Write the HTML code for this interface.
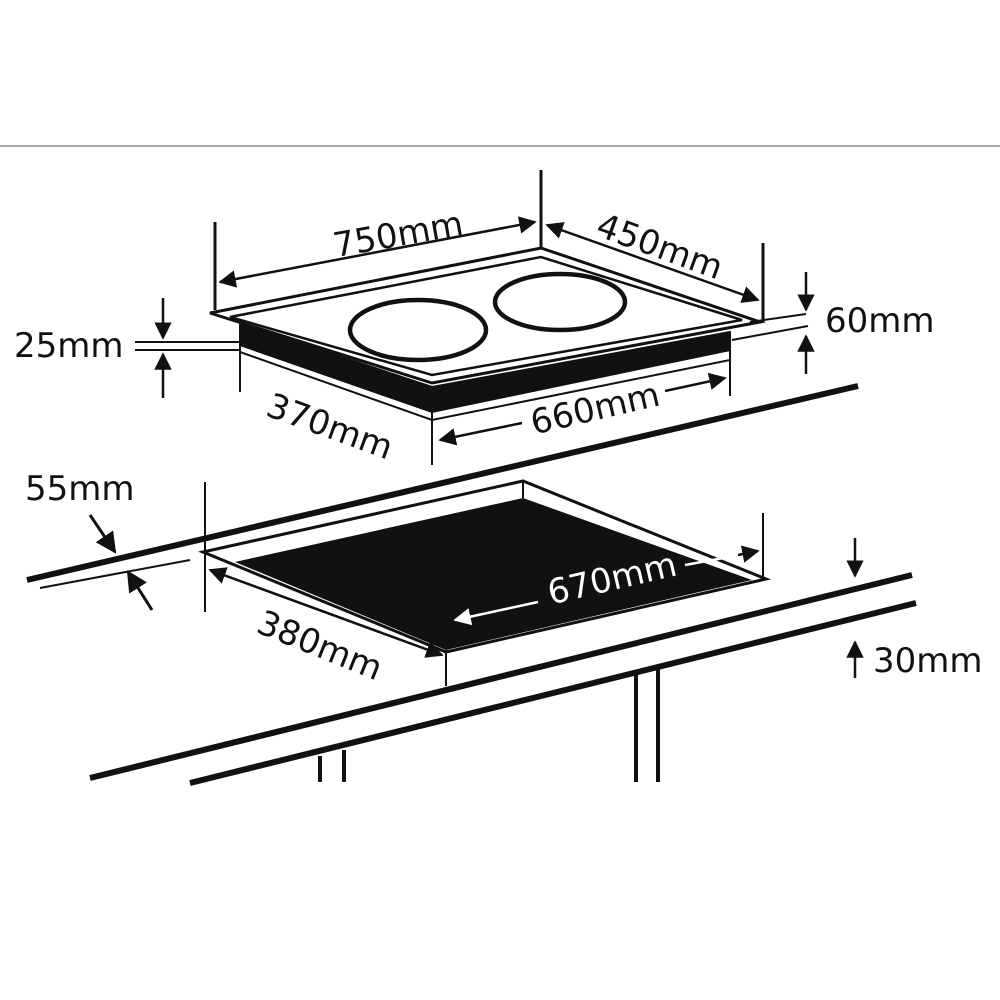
<!DOCTYPE html>
<html><head><style>html,body{margin:0;padding:0;background:#fff}svg{display:block}text{font-family:"DejaVu Sans","Liberation Sans",sans-serif;font-size:34px;fill:#111}</style></head><body>
<svg width="1000" height="1000" viewBox="0 0 1000 1000" xmlns="http://www.w3.org/2000/svg">
<defs><marker id="a" viewBox="0 0 10 10" refX="9" refY="5" markerWidth="7" markerHeight="7" orient="auto-start-reverse"><path d="M0,0 L10,5 L0,10 z" fill="#111"/></marker>
<marker id="w" viewBox="0 0 10 10" refX="9" refY="5" markerWidth="7" markerHeight="7" orient="auto-start-reverse"><path d="M0,0 L10,5 L0,10 z" fill="#fff"/></marker></defs>
<line x1="0" y1="146" x2="1000" y2="146" stroke="#888" stroke-width="1.5"/>
<g stroke="#111" fill="none">
<!-- counter back thick line -->
<line x1="27" y1="580" x2="858" y2="386" stroke-width="6"/>
<line x1="40" y1="588" x2="190" y2="560" stroke-width="2"/>
<!-- hob -->
<polygon points="200,300 541,240 770,320 730,400 432,470 240,400 200,360" fill="#fff" stroke="none"/>
<polygon points="240,323 432,387 730,332 730,350 432,412 240,345" fill="#111" stroke-width="2"/>
<polyline points="240,352 432,420 730,360" stroke-width="2"/>
<polygon points="210,313 541,248 760,322 432,383" fill="#fff" stroke-width="3"/>
<polygon points="230,317 541,257 742,320 432,375" stroke-width="2.5"/>
<ellipse cx="418" cy="330" rx="68" ry="30" stroke-width="4.5"/>
<ellipse cx="560" cy="302" rx="65" ry="28" stroke-width="4.5"/>
<line x1="215" y1="222" x2="215" y2="310" stroke-width="3"/>
<line x1="541" y1="170" x2="541" y2="248" stroke-width="3"/>
<line x1="763" y1="243" x2="763" y2="322" stroke-width="3"/>
<line x1="240" y1="330" x2="240" y2="392" stroke-width="2"/>
<line x1="432" y1="400" x2="432" y2="465" stroke-width="2"/>
<line x1="730" y1="338" x2="730" y2="396" stroke-width="2"/>
<line x1="750" y1="322" x2="806" y2="314" stroke-width="2"/>
<line x1="732" y1="340" x2="808" y2="326" stroke-width="2"/>
<line x1="135" y1="342" x2="240" y2="342" stroke-width="2"/>
<line x1="135" y1="350" x2="240" y2="350" stroke-width="2"/>
<line x1="220" y1="282" x2="535" y2="222" stroke-width="2.5" marker-start="url(#a)" marker-end="url(#a)"/>
<line x1="547" y1="225" x2="758" y2="300" stroke-width="2.5" marker-start="url(#a)" marker-end="url(#a)"/>
<line x1="440" y1="440" x2="522" y2="423" stroke-width="2.5" marker-start="url(#a)"/>
<line x1="665" y1="391" x2="725" y2="378" stroke-width="2.5" marker-end="url(#a)"/>
<line x1="163" y1="298" x2="163" y2="338" stroke-width="2.5" marker-end="url(#a)"/>
<line x1="163" y1="398" x2="163" y2="354" stroke-width="2.5" marker-end="url(#a)"/>
<line x1="806" y1="272" x2="806" y2="310" stroke-width="2.5" marker-end="url(#a)"/>
<line x1="806" y1="374" x2="806" y2="336" stroke-width="2.5" marker-end="url(#a)"/>
<!-- cutout -->
<polygon points="203,552 523,481 766,579 446,652" fill="#fff" stroke-width="3"/>
<polygon points="235,562 523,498 752,580 446,650" fill="#111" stroke="none"/>
<line x1="523" y1="481" x2="523" y2="498" stroke-width="2"/>
<line x1="205" y1="482" x2="205" y2="612" stroke-width="2"/>
<line x1="446" y1="650" x2="446" y2="686" stroke-width="2"/>
<line x1="763" y1="513" x2="763" y2="578" stroke-width="2"/>
<line x1="210" y1="570" x2="442" y2="655" stroke-width="2.5" marker-start="url(#a)" marker-end="url(#a)"/>
<line x1="455" y1="620" x2="538" y2="602" stroke="#fff" stroke-width="2.5" marker-start="url(#w)"/>
<line x1="685" y1="565" x2="740" y2="555" stroke-width="2.5" stroke="#fff"/>
<line x1="738" y1="555" x2="758" y2="551" stroke-width="2.5" marker-end="url(#a)"/>
<line x1="90" y1="515" x2="115" y2="552" stroke-width="3" marker-end="url(#a)"/>
<line x1="152" y1="610" x2="128" y2="572" stroke-width="3" marker-end="url(#a)"/>
<!-- front counter -->
<line x1="90" y1="778" x2="912" y2="575" stroke-width="6"/>
<line x1="190" y1="783" x2="916" y2="603" stroke-width="6"/>
<line x1="320" y1="756" x2="320" y2="782" stroke-width="4"/>
<line x1="344" y1="750" x2="344" y2="782" stroke-width="4"/>
<line x1="636" y1="672" x2="636" y2="782" stroke-width="4"/>
<line x1="658" y1="667" x2="658" y2="782" stroke-width="4"/>
<line x1="855" y1="538" x2="855" y2="576" stroke-width="2.5" marker-end="url(#a)"/>
<line x1="855" y1="678" x2="855" y2="642" stroke-width="2.5" marker-end="url(#a)"/>
</g>
<text x="398" y="246" text-anchor="middle" transform="rotate(-10 398 234)">750mm</text>
<text x="660" y="258" text-anchor="middle" transform="rotate(20 660 246)">450mm</text>
<text x="330" y="438" text-anchor="middle" transform="rotate(20 330 426)">370mm</text>
<text x="595" y="420" text-anchor="middle" transform="rotate(-13 595 408)">660mm</text>
<text x="14" y="357">25mm</text>
<text x="825" y="332">60mm</text>
<text x="25" y="500">55mm</text>
<text x="320" y="657" text-anchor="middle" transform="rotate(22 320 645)">380mm</text>
<text x="612" y="590" text-anchor="middle" transform="rotate(-13 612 578)" style="fill:#fff">670mm</text>
<text x="873" y="672">30mm</text>
</svg>
</body></html>
